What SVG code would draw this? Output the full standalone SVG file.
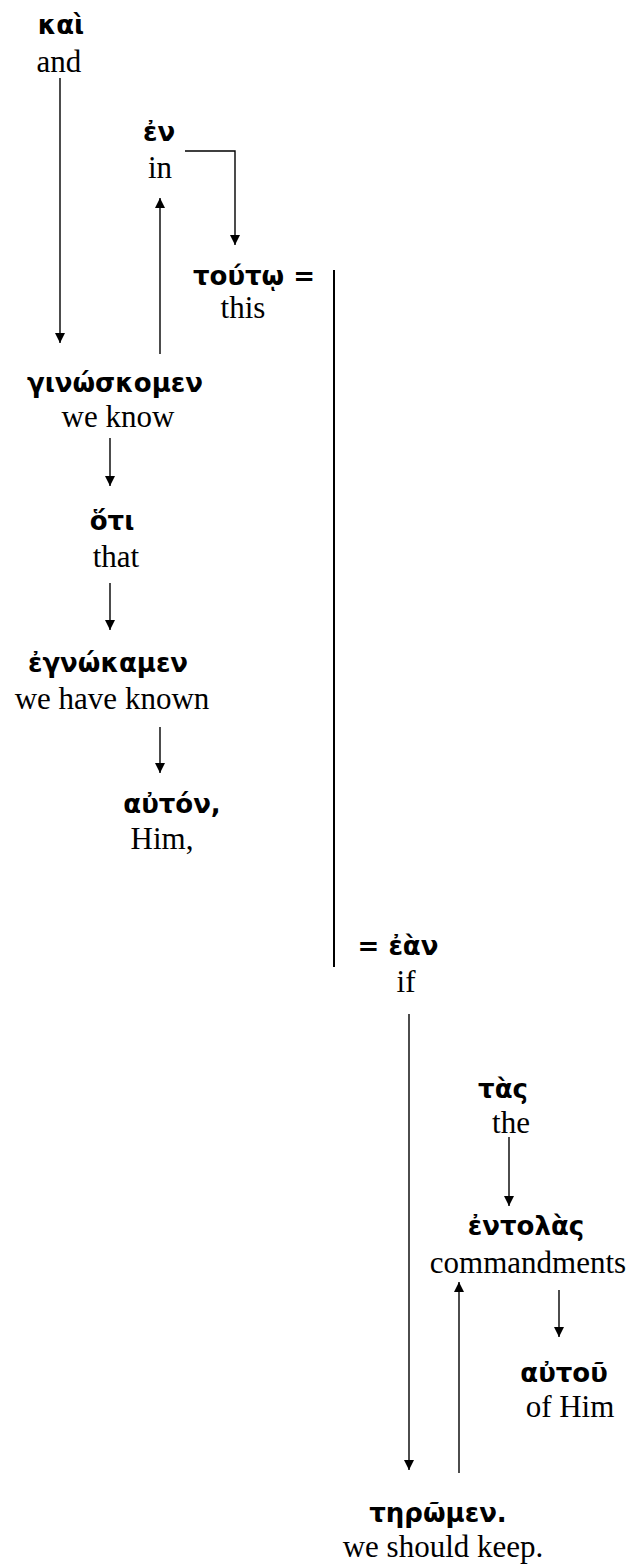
<svg xmlns="http://www.w3.org/2000/svg" width="631" height="1566" viewBox="0 0 631 1566">
<style>
.gk{font-family:"DejaVu Sans","Noto Sans",sans-serif;font-weight:bold;font-size:26px;fill:#000;text-anchor:middle}
.en{font-family:"Liberation Serif","Times New Roman",serif;font-size:31px;fill:#000;text-anchor:middle}
.ln{stroke:#000;stroke-width:1.4;fill:none}
</style>
<defs>
<marker id="ah" viewBox="0 0 10 13" refX="10" refY="6.5" markerWidth="10" markerHeight="13" markerUnits="userSpaceOnUse" orient="auto">
<path d="M0,1.5 L10,6.5 L0,11.5 Z" fill="#000"/>
</marker>
</defs>
<rect width="631" height="1566" fill="#fff"/>
<g id="connectors">
<line class="ln" x1="60" y1="78" x2="60" y2="343" marker-end="url(#ah)"/>
<path class="ln" d="M185,151 H235 V245" marker-end="url(#ah)"/>
<line class="ln" x1="160" y1="354" x2="160" y2="198" marker-end="url(#ah)"/>
<line class="ln" x1="110" y1="438" x2="110" y2="486" marker-end="url(#ah)"/>
<line class="ln" x1="110" y1="583" x2="110" y2="630" marker-end="url(#ah)"/>
<line class="ln" x1="160" y1="727" x2="160" y2="773" marker-end="url(#ah)"/>
<line x1="334" y1="270" x2="334" y2="967" stroke="#000" stroke-width="2"/>
<line class="ln" x1="409" y1="1014" x2="409" y2="1470" marker-end="url(#ah)"/>
<line class="ln" x1="509" y1="1137" x2="509" y2="1206" marker-end="url(#ah)"/>
<line class="ln" x1="559" y1="1290" x2="559" y2="1337" marker-end="url(#ah)"/>
<line class="ln" x1="459" y1="1473" x2="459" y2="1282" marker-end="url(#ah)"/>
</g>
<g id="kai"><text class="gk" x="61" y="34">καὶ</text><text class="en" x="59" y="72">and</text></g>
<g id="en"><text class="gk" x="159" y="141">ἐν</text><text class="en" x="160" y="178">in</text></g>
<g id="toutw"><text class="gk" x="254" y="285">τούτῳ =</text><text class="en" x="243" y="318">this</text></g>
<g id="ginwskomen"><text class="gk" x="115" y="392">γινώσκομεν</text><text class="en" x="118" y="427">we know</text></g>
<g id="oti"><text class="gk" x="112" y="530">ὅτι</text><text class="en" x="116" y="567">that</text></g>
<g id="egnwkamen"><text class="gk" x="108" y="672">ἐγνώκαμεν</text><text class="en" x="112" y="709">we have known</text></g>
<g id="auton"><text class="gk" x="172" y="813">αὐτόν,</text><text class="en" x="162" y="849">Him,</text></g>
<g id="ean"><text class="gk" x="398" y="955">= ἐὰν</text><text class="en" x="406" y="992">if</text></g>
<g id="tas"><text class="gk" x="503" y="1098">τὰς</text><text class="en" x="511" y="1133">the</text></g>
<g id="entolas"><text class="gk" x="526" y="1235">ἐντολὰς</text><text class="en" x="528" y="1273">commandments</text></g>
<g id="autou"><text class="gk" x="564" y="1382">αὐτοῦ</text><text class="en" x="570" y="1417">of Him</text></g>
<g id="thrwmen"><text class="gk" x="438" y="1522">τηρῶμεν.</text><text class="en" x="443" y="1557">we should keep.</text></g>
</svg>
